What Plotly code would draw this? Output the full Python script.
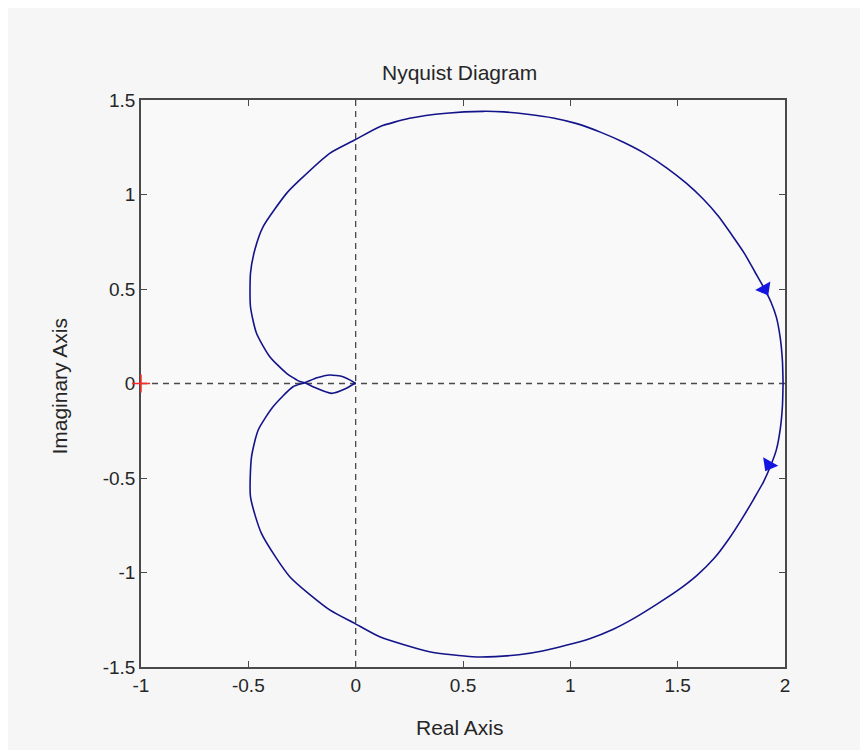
"""
Nyquist diagram, MATLAB-style look.
"""

import plotly.graph_objects as go

# ---------------------------------------------------------------------------
# Data
# ---------------------------------------------------------------------------

# positive frequencies: from (2, 0) down through the lower lobe, across the
# negative real axis, then the small upper loop into the origin
re_pos = [1.991, 1.988, 1.978, 1.96, 1.935, 1.9, 1.855, 1.8, 1.74, 1.67, 1.59,
          1.5, 1.4, 1.3, 1.2, 1.09, 0.98, 0.87, 0.76, 0.65, 0.546, 0.344,
          0.112, -0.005, -0.121, -0.307, -0.439, -0.49, -0.485, -0.454,
          -0.385, -0.292, -0.237, -0.18, -0.121, -0.059, -0.013, 0.0]
im_pos = [0.0, -0.12, -0.24, -0.35, -0.43, -0.52, -0.61, -0.715, -0.82,
          -0.925, -1.015, -1.095, -1.17, -1.24, -1.3, -1.35, -1.385, -1.415,
          -1.435, -1.445, -1.446, -1.419, -1.34, -1.269, -1.198, -1.022,
          -0.793, -0.599, -0.387, -0.246, -0.123, -0.017, 0.004, 0.03, 0.045,
          0.036, 0.01, 0.0]

# negative frequencies: from the origin through the small lower loop, up the
# upper lobe and back to (2, 0)
re_neg = [0.0, -0.013, -0.043, -0.113, -0.199, -0.237, -0.26, -0.322, -0.4,
          -0.462, -0.49, -0.49, -0.47, -0.431, -0.322, -0.26, -0.121, -0.005,
          0.112, 0.251, 0.422, 0.592, 0.69, 0.8, 0.92, 1.03, 1.14, 1.25, 1.35,
          1.45, 1.54, 1.62, 1.69, 1.75, 1.81, 1.86, 1.9, 1.935, 1.96, 1.978,
          1.988, 1.991]
im_neg = [0.0, -0.005, -0.025, -0.052, -0.017, 0.004, 0.01, 0.054, 0.142,
          0.266, 0.406, 0.583, 0.706, 0.83, 1.006, 1.077, 1.218, 1.288, 1.359,
          1.403, 1.43, 1.44, 1.437, 1.425, 1.405, 1.375, 1.33, 1.275, 1.215,
          1.14, 1.06, 0.975, 0.885, 0.79, 0.69, 0.59, 0.51, 0.43, 0.35, 0.24,
          0.12, 0.0]

# direction arrows (position + heading in degrees, clockwise from up)
arrow_re = [1.905, 1.925]
arrow_im = [0.5, -0.43]
arrow_angle = [151, 209]

x_ticks = [-1, -0.5, 0, 0.5, 1, 1.5, 2]
x_labels = ["-1", "-0.5", "0", "0.5", "1", "1.5", "2"]
y_ticks = [-1.5, -1, -0.5, 0, 0.5, 1, 1.5]
y_labels = ["-1.5", "-1", "-0.5", "0", "0.5", "1", "1.5"]

_FONT = "Liberation Sans, Arial, sans-serif"
_TEXT = "#262626"
_CURVE = "#14148a"
_AXIS = "#4a4a4a"

fig = go.Figure()

# dashed real / imaginary axes
for xs, ys in (([-1, 2], [0, 0]), ([0, 0], [-1.5, 1.5])):
    fig.add_trace(go.Scatter(x=xs, y=ys, mode="lines",
                             line=dict(color="#4a4a4a", width=1.3, dash="6px,5px"),
                             hoverinfo="skip"))

for xs, ys in ((re_pos, im_pos), (re_neg, im_neg)):
    fig.add_trace(go.Scatter(x=xs, y=ys, mode="lines",
                             line=dict(color=_CURVE, width=1.6, shape="spline",
                                       smoothing=0.6)))

fig.add_trace(go.Scatter(
    x=arrow_re, y=arrow_im, mode="markers",
    marker=dict(symbol="triangle-up", size=15, color="#1515e0",
                angle=arrow_angle, line=dict(width=0)),
))

# critical point
fig.add_trace(go.Scatter(
    x=[-1], y=[0], mode="markers",
    marker=dict(symbol="cross-thin", size=13, line=dict(color="#ff2a2a", width=1.5)),
    cliponaxis=False,
))

axis_common = dict(
    showline=True, linecolor=_AXIS, linewidth=1.5, mirror="ticks",
    ticks="inside", ticklen=6, tickcolor=_AXIS, tickwidth=1.2,
    showgrid=False, zeroline=False, layer="below traces",
    tickfont=dict(family=_FONT, size=19, color=_TEXT),
)

fig.update_layout(
    width=860, height=742,
    margin=dict(l=133, r=83, t=92, b=83),
    paper_bgcolor="#f6f6f6",
    plot_bgcolor="#f9f9f9",
    showlegend=False,
    xaxis=dict(**axis_common, range=[-1, 2], tickvals=x_ticks, ticktext=x_labels),
    yaxis=dict(**axis_common, range=[-1.5, 1.5], tickvals=y_ticks, ticktext=y_labels),
)

# title and axis labels placed like MATLAB's
label_font = dict(family=_FONT, size=21, color=_TEXT)
fig.add_annotation(text="Nyquist Diagram", x=0.495, y=1.048, xref="paper", yref="paper",
                   xanchor="center", yanchor="middle", showarrow=False, font=label_font)
fig.add_annotation(text="Real Axis", x=0.495, y=-0.106, xref="paper", yref="paper",
                   xanchor="center", yanchor="middle", showarrow=False, font=label_font)
fig.add_annotation(text="Imaginary Axis", x=-0.126, y=0.496, xref="paper", yref="paper",
                   xanchor="center", yanchor="middle", showarrow=False, textangle=-90,
                   font=label_font)

fig.write_html("out.html")
